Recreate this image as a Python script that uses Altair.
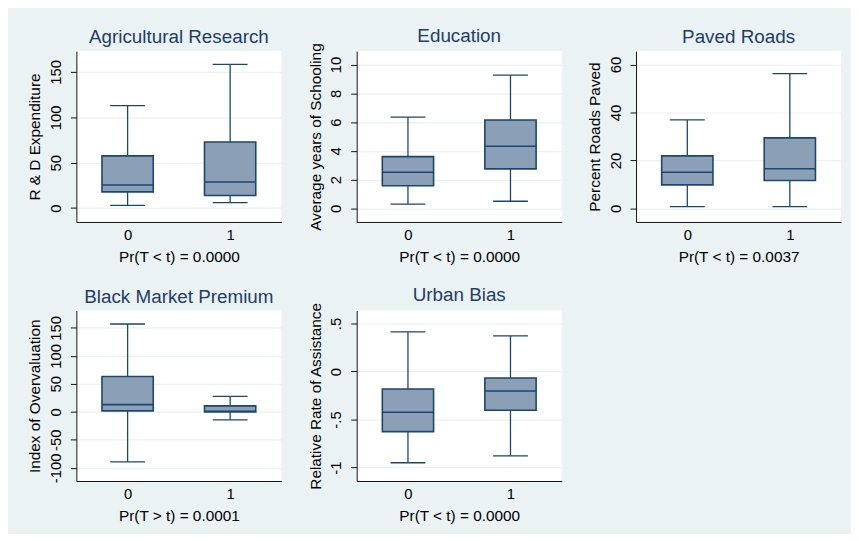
import altair as alt
import pandas as pd

# ---- data ----
groups = [0, 1]

titles = ["Agricultural Research", "Education", "Paved Roads",
          "Black Market Premium", "Urban Bias"]
y_titles = ["R & D Expenditure", "Average years of Schooling", "Percent Roads Paved",
            "Index of Overvaluation", "Relative Rate of Assistance"]
x_titles = ["Pr(T < t) = 0.0000", "Pr(T < t) = 0.0000", "Pr(T < t) = 0.0037",
            "Pr(T > t) = 0.0001", "Pr(T < t) = 0.0000"]

agri_lo = [3.0, 5.9]
agri_q1 = [17.9, 13.9]
agri_med = [25.5, 28.8]
agri_q3 = [57.5, 72.8]
agri_hi = [112.9, 158.3]

edu_lo = [0.3, 0.5]
edu_q1 = [1.58, 2.75]
edu_med = [2.52, 4.32]
edu_q3 = [3.6, 6.15]
edu_hi = [6.35, 9.27]

road_lo = [0.7, 0.7]
road_q1 = [9.8, 11.6]
road_med = [15.1, 16.5]
road_q3 = [21.9, 29.4]
road_hi = [36.9, 56.2]

bmp_lo = [-89.4, -14.2]
bmp_q1 = [1.8, 0.0]
bmp_med = [12.9, 1.1]
bmp_q3 = [63.1, 10.6]
bmp_hi = [157.0, 27.7]

urb_lo = [-0.95, -0.878]
urb_q1 = [-0.626, -0.403]
urb_med = [-0.424, -0.203]
urb_q3 = [-0.182, -0.068]
urb_hi = [0.413, 0.372]

y_ticks = [[0, 50, 100, 150], [0, 2, 4, 6, 8, 10], [0, 20, 40, 60],
           [-100, -50, 0, 50, 100, 150], [-1, -0.5, 0, 0.5]]
y_domains = [[-15.3, 173], [-0.94, 10.94], [-5.66, 65.6], [-123.6, 180.9], [-1.14, 0.634]]

stats = [
    (agri_lo, agri_q1, agri_med, agri_q3, agri_hi),
    (edu_lo, edu_q1, edu_med, edu_q3, edu_hi),
    (road_lo, road_q1, road_med, road_q3, road_hi),
    (bmp_lo, bmp_q1, bmp_med, bmp_q3, bmp_hi),
    (urb_lo, urb_q1, urb_med, urb_q3, urb_hi),
]

# panel-title offset (the long y titles of the middle panels push the title up)
title_offsets = [4, -3.5, 4, 4, -3.5]

# ---- styling ----
FONT = "Liberation Sans"
NAVY = "#1a476f"
FILL = "#8ba0b6"
TITLE_COL = "#1e3d6b"
BG = "#eaf2f3"

LABEL_EXPR = ("datum.value < 0 ? '-' + replace(format(-datum.value, '~g'), '0.', '.')"
              " : replace(format(datum.value, '~g'), '0.', '.')")


def panel(i, height):
    lo, q1, med, q3, hi = stats[i]
    df = pd.DataFrame({"group": groups, "lo": lo, "q1": q1, "med": med, "q3": q3, "hi": hi})
    base = alt.Chart(df).transform_calculate(
        bl="datum.group - 0.25", br="datum.group + 0.25",
        cl="datum.group - 0.17", cr="datum.group + 0.17",
    )
    xs = alt.Scale(domain=[-0.5, 1.5], nice=False, zero=False)
    ys = alt.Scale(domain=y_domains[i], nice=False, zero=False)
    xa = alt.Axis(values=[0, 1], title=x_titles[i], ticks=False, grid=False,
                  labelAngle=0, labelPadding=6, titlePadding=7, labelExpr=LABEL_EXPR)
    ya = alt.Axis(values=y_ticks[i], title=y_titles[i], labelExpr=LABEL_EXPR,
                  labelAngle=270, labelAlign="center", labelBaseline="bottom",
                  labelPadding=7, tickSize=6, titlePadding=6, labelOverlap=False)

    def X(f):
        return alt.X(f, type="quantitative", scale=xs, axis=xa)

    def Y(f):
        return alt.Y(f, type="quantitative", scale=ys, axis=ya)

    whisk = base.mark_rule(color=NAVY, strokeWidth=1.3).encode(
        x=X("group"), y=Y("lo"), y2="hi:Q")
    cap_lo = base.mark_rule(color=NAVY, strokeWidth=1.3).encode(
        x=X("cl"), x2="cr:Q", y=Y("lo"))
    cap_hi = base.mark_rule(color=NAVY, strokeWidth=1.3).encode(
        x=X("cl"), x2="cr:Q", y=Y("hi"))
    box = base.mark_rect(fill=FILL, stroke=NAVY, strokeWidth=1.6).encode(
        x=X("bl"), x2="br:Q", y=Y("q1"), y2="q3:Q")
    median = base.mark_rule(color=NAVY, strokeWidth=1.6).encode(
        x=X("bl"), x2="br:Q", y=Y("med"))

    return alt.layer(whisk, cap_lo, cap_hi, box, median).properties(
        width=207, height=height,
        title=alt.TitleParams(titles[i], fontSize=19, color=TITLE_COL, font=FONT,
                              fontWeight="normal", anchor="middle",
                              offset=title_offsets[i]),
    )


chart = alt.concat(
    panel(0, 172.5), panel(1, 172.5), panel(2, 172.5), panel(3, 172), panel(4, 172),
    columns=3, spacing={"row": 21, "column": 26},
).properties(
    background=BG,
    padding={"left": 20, "top": 17, "right": 10, "bottom": 7},
).configure_view(
    stroke=None, fill="white"
).configure_axis(
    labelFont=FONT, titleFont=FONT, labelFontSize=15, titleFontSize=15.5,
    labelColor="black", titleColor="black", titleFontWeight="normal",
    domainColor="#111111", tickColor="#111111", domainWidth=1, tickWidth=1,
    gridColor=BG, gridWidth=1.2,
)

chart.save("out.html", embed_options={"renderer": "svg", "actions": False})
